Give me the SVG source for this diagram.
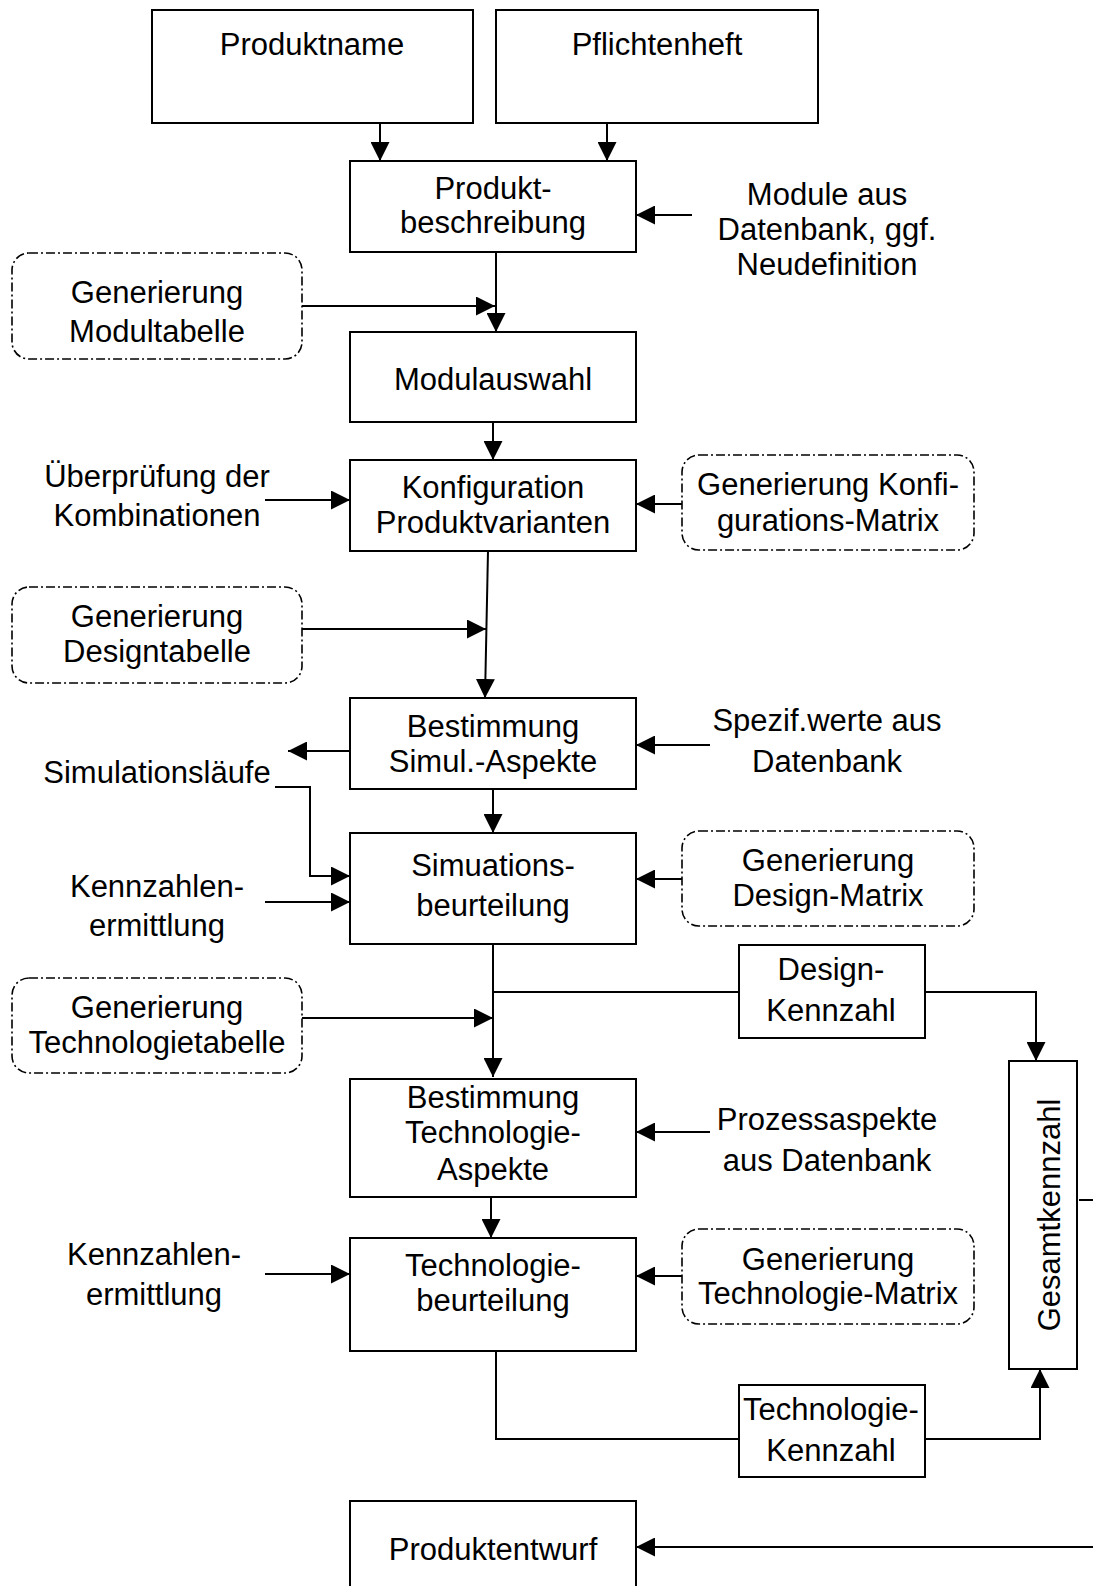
<svg xmlns="http://www.w3.org/2000/svg" width="1093" height="1586" viewBox="0 0 1093 1586">
  <style>
    .box { fill: #fff; stroke: #000; stroke-width: 2; }
    .gen { fill: #fff; stroke: #000; stroke-width: 1.6; stroke-dasharray: 9 3 2 3; }
    .lbl { font-family: "Liberation Sans", Arial, sans-serif; font-size: 31px; fill: #000; text-anchor: middle; }
    .big { font-size: 31px; }
    .ln { fill: none; stroke: #000; stroke-width: 2; }
    .arr { marker-end: url(#head); }
  </style>
  <defs>
    <marker id="head" markerUnits="userSpaceOnUse" markerWidth="19" markerHeight="19" viewBox="0 0 19 19" refX="19" refY="9.5" orient="auto">
      <path d="M0,0 L19,9.5 L0,19 Z" fill="#000"/>
    </marker>
  </defs>
  <rect width="1093" height="1586" fill="#fff"/>

  <!-- connectors -->
  <g id="connectors">
    <line class="ln arr" x1="380" y1="123" x2="380" y2="161"/>
    <line class="ln arr" x1="607" y1="123" x2="607" y2="161"/>
    <line class="ln arr" x1="692" y1="215" x2="636" y2="215"/>
    <line class="ln arr" x1="496" y1="252" x2="496" y2="332"/>
    <line class="ln arr" x1="302" y1="306" x2="495" y2="306"/>
    <line class="ln arr" x1="493" y1="422" x2="493" y2="460"/>
    <line class="ln arr" x1="265" y1="500" x2="350" y2="500"/>
    <line class="ln arr" x1="682" y1="504" x2="636" y2="504"/>
    <line class="ln arr" x1="488" y1="551" x2="485" y2="698"/>
    <line class="ln arr" x1="302" y1="629" x2="486" y2="629"/>
    <line class="ln arr" x1="350" y1="751" x2="288" y2="751"/>
    <line class="ln arr" x1="710" y1="745" x2="636" y2="745"/>
    <polyline class="ln arr" points="275,787 310,787 310,876 350,876"/>
    <line class="ln arr" x1="493" y1="789" x2="493" y2="833"/>
    <line class="ln arr" x1="265" y1="902" x2="350" y2="902"/>
    <line class="ln arr" x1="682" y1="879" x2="636" y2="879"/>
    <line class="ln arr" x1="493" y1="944" x2="493" y2="1077"/>
    <line class="ln" x1="493" y1="992" x2="739" y2="992"/>
    <polyline class="ln arr" points="925,992 1036,992 1036,1061"/>
    <line class="ln arr" x1="302" y1="1018" x2="493" y2="1018"/>
    <line class="ln arr" x1="710" y1="1132" x2="636" y2="1132"/>
    <line class="ln arr" x1="491" y1="1197" x2="491" y2="1238"/>
    <line class="ln arr" x1="265" y1="1274" x2="350" y2="1274"/>
    <line class="ln arr" x1="682" y1="1276" x2="636" y2="1276"/>
    <polyline class="ln" points="496,1351 496,1439 739,1439"/>
    <polyline class="ln arr" points="925,1439 1040,1439 1040,1369"/>
    <line class="ln" x1="1079" y1="1200" x2="1093" y2="1200"/>
    <line class="ln arr" x1="1093" y1="1547" x2="636" y2="1547"/>
  </g>

  <!-- main process boxes -->
  <g id="produktname">
    <rect class="box" x="152" y="10" width="321" height="113"/>
    <text class="lbl" x="312" y="55">Produktname</text>
  </g>
  <g id="pflichtenheft">
    <rect class="box" x="496" y="10" width="322" height="113"/>
    <text class="lbl" x="657" y="55">Pflichtenheft</text>
  </g>
  <g id="produktbeschreibung">
    <rect class="box" x="350" y="161" width="286" height="91"/>
    <text class="lbl" x="493" y="199">Produkt-</text>
    <text class="lbl" x="493" y="233">beschreibung</text>
  </g>
  <g id="module-datenbank">
    <text class="lbl" x="827" y="205">Module aus</text>
    <text class="lbl" x="827" y="240">Datenbank, ggf.</text>
    <text class="lbl" x="827" y="275">Neudefinition</text>
  </g>
  <g id="gen-modultabelle">
    <rect class="gen" x="12" y="253" width="290" height="106" rx="17"/>
    <text class="lbl" x="157" y="303">Generierung</text>
    <text class="lbl" x="157" y="342">Modultabelle</text>
  </g>
  <g id="modulauswahl">
    <rect class="box" x="350" y="332" width="286" height="90"/>
    <text class="lbl" x="493" y="390">Modulauswahl</text>
  </g>
  <g id="ueberpruefung">
    <text class="lbl" x="157" y="487">Überprüfung der</text>
    <text class="lbl" x="157" y="526">Kombinationen</text>
  </g>
  <g id="konfiguration">
    <rect class="box" x="350" y="460" width="286" height="91"/>
    <text class="lbl" x="493" y="498">Konfiguration</text>
    <text class="lbl" x="493" y="533">Produktvarianten</text>
  </g>
  <g id="gen-konfig-matrix">
    <rect class="gen" x="682" y="455" width="292" height="95" rx="17"/>
    <text class="lbl" x="828" y="495">Generierung Konfi-</text>
    <text class="lbl" x="828" y="531">gurations-Matrix</text>
  </g>
  <g id="gen-designtabelle">
    <rect class="gen" x="12" y="587" width="290" height="96" rx="17"/>
    <text class="lbl" x="157" y="627">Generierung</text>
    <text class="lbl" x="157" y="662">Designtabelle</text>
  </g>
  <g id="bestimmung-simul">
    <rect class="box" x="350" y="698" width="286" height="91"/>
    <text class="lbl" x="493" y="737">Bestimmung</text>
    <text class="lbl" x="493" y="772">Simul.-Aspekte</text>
  </g>
  <g id="spezifwerte">
    <text class="lbl" x="827" y="731">Spezif.werte aus</text>
    <text class="lbl" x="827" y="772">Datenbank</text>
  </g>
  <g id="simulationslaeufe">
    <text class="lbl" x="157" y="783">Simulationsläufe</text>
  </g>
  <g id="kennzahlen-1">
    <text class="lbl" x="157" y="897">Kennzahlen-</text>
    <text class="lbl" x="157" y="936">ermittlung</text>
  </g>
  <g id="simuationsbeurteilung">
    <rect class="box" x="350" y="833" width="286" height="111"/>
    <text class="lbl" x="493" y="876">Simuations-</text>
    <text class="lbl" x="493" y="916">beurteilung</text>
  </g>
  <g id="gen-design-matrix">
    <rect class="gen" x="682" y="831" width="292" height="95" rx="17"/>
    <text class="lbl" x="828" y="871">Generierung</text>
    <text class="lbl" x="828" y="906">Design-Matrix</text>
  </g>
  <g id="design-kennzahl">
    <rect class="box" x="739" y="945" width="186" height="93"/>
    <text class="lbl" x="831" y="980">Design-</text>
    <text class="lbl" x="831" y="1021">Kennzahl</text>
  </g>
  <g id="gen-technologietabelle">
    <rect class="gen" x="12" y="978" width="290" height="95" rx="17"/>
    <text class="lbl" x="157" y="1018">Generierung</text>
    <text class="lbl" x="157" y="1053">Technologietabelle</text>
  </g>
  <g id="bestimmung-technologie">
    <rect class="box" x="350" y="1079" width="286" height="118"/>
    <text class="lbl" x="493" y="1108">Bestimmung</text>
    <text class="lbl" x="493" y="1143">Technologie-</text>
    <text class="lbl" x="493" y="1180">Aspekte</text>
  </g>
  <g id="prozessaspekte">
    <text class="lbl" x="827" y="1130">Prozessaspekte</text>
    <text class="lbl" x="827" y="1171">aus Datenbank</text>
  </g>
  <g id="gesamtkennzahl">
    <rect class="box" x="1009" y="1061" width="68" height="308"/>
    <text class="lbl big" transform="translate(1060,1215) rotate(-90)">Gesamtkennzahl</text>
  </g>
  <g id="kennzahlen-2">
    <text class="lbl" x="154" y="1265">Kennzahlen-</text>
    <text class="lbl" x="154" y="1305">ermittlung</text>
  </g>
  <g id="technologiebeurteilung">
    <rect class="box" x="350" y="1238" width="286" height="113"/>
    <text class="lbl" x="493" y="1276">Technologie-</text>
    <text class="lbl" x="493" y="1311">beurteilung</text>
  </g>
  <g id="gen-technologie-matrix">
    <rect class="gen" x="682" y="1229" width="292" height="95" rx="17"/>
    <text class="lbl" x="828" y="1270">Generierung</text>
    <text class="lbl" x="828" y="1304">Technologie-Matrix</text>
  </g>
  <g id="technologie-kennzahl">
    <rect class="box" x="739" y="1385" width="186" height="92"/>
    <text class="lbl" x="831" y="1420">Technologie-</text>
    <text class="lbl" x="831" y="1461">Kennzahl</text>
  </g>
  <g id="produktentwurf">
    <rect class="box" x="350" y="1501" width="286" height="100"/>
    <text class="lbl" x="493" y="1560">Produktentwurf</text>
  </g>
</svg>
